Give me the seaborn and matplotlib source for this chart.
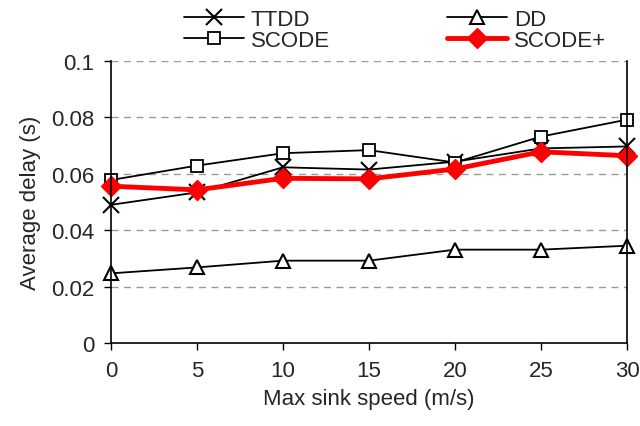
import numpy as np
import pandas as pd
import matplotlib
matplotlib.use("Agg")
import matplotlib.pyplot as plt
import matplotlib.ticker as mticker
import seaborn as sns

speeds = [0, 5, 10, 15, 20, 25, 30]
ttdd = [0.0490, 0.0534, 0.0623, 0.0615, 0.0643, 0.0690, 0.0697]
dd = [0.0247, 0.0268, 0.0292, 0.0292, 0.0331, 0.0331, 0.0345]
scode = [0.0578, 0.0629, 0.0673, 0.0684, 0.0640, 0.0732, 0.0792]
scode_plus = [0.0556, 0.0543, 0.0584, 0.0582, 0.0617, 0.0678, 0.0664]
yticks = [0, 0.02, 0.04, 0.06, 0.08, 0.1]
xticks = [0, 5, 10, 15, 20, 25, 30]

sns.set_theme(style="white")
plt.rcParams['font.family'] = ['Liberation Sans', 'DejaVu Sans']

fig = plt.figure(figsize=(6.4, 4.27), dpi=100)
ax = fig.add_axes([111/640, 1-344/427, (627-111)/640, (344-62)/427])

series = [
    ("TTDD", ttdd, dict(color="black", marker="x", markersize=11, markeredgewidth=1.5, linewidth=1.3, markeredgecolor="black")),
    ("SCODE", scode, dict(color="black", marker="s", markersize=8, markeredgewidth=1.3, linewidth=1.3, markerfacecolor="white", markeredgecolor="black")),
    ("DD", dd, dict(color="black", marker="^", markersize=10, markeredgewidth=1.5, linewidth=1.3, markerfacecolor="white", markeredgecolor="black")),
    ("SCODE+", scode_plus, dict(color="red", marker="D", markersize=10, markeredgewidth=1, linewidth=3.5, markerfacecolor="red", markeredgecolor="red")),
]

for name, vals, kw in series:
    df = pd.DataFrame({"x": speeds, "y": vals})
    sns.lineplot(data=df, x="x", y="y", ax=ax, label=name, clip_on=False, **kw)

ax.set_xlim(0, 30)
ax.set_ylim(0, 0.1)
ax.set_xticks(xticks)
ax.set_yticks(yticks)
ax.yaxis.set_major_formatter(mticker.FormatStrFormatter('%g'))
ax.tick_params(axis='both', which='major', labelsize=16, direction='out', length=5, width=1,
               color='black', left=True, bottom=True, pad=7)
ax.set_xlabel("Max sink speed (m/s)", fontsize=16, labelpad=5)
ax.set_ylabel("Average delay (s)", fontsize=16, labelpad=7)

for y in yticks[1:]:
    ax.axhline(y, color="#999999", linestyle=(0, (5, 4)), linewidth=1, zorder=0)

for s in ["left", "right", "bottom"]:
    ax.spines[s].set_visible(True)
    ax.spines[s].set_color("black")
    ax.spines[s].set_linewidth(1.2)
ax.spines["top"].set_visible(False)

ax.get_legend().remove()
handles, labels = ax.get_legend_handles_labels()
fig.legend(handles, labels, loc="upper center", bbox_to_anchor=(395/640, 1 - 10/427), ncol=2,
           frameon=False, fontsize=16, handlelength=2.7, handletextpad=0.3, columnspacing=5.3,
           labelspacing=0.0, borderpad=0, borderaxespad=0)

fig.savefig("out.png", dpi=100)
